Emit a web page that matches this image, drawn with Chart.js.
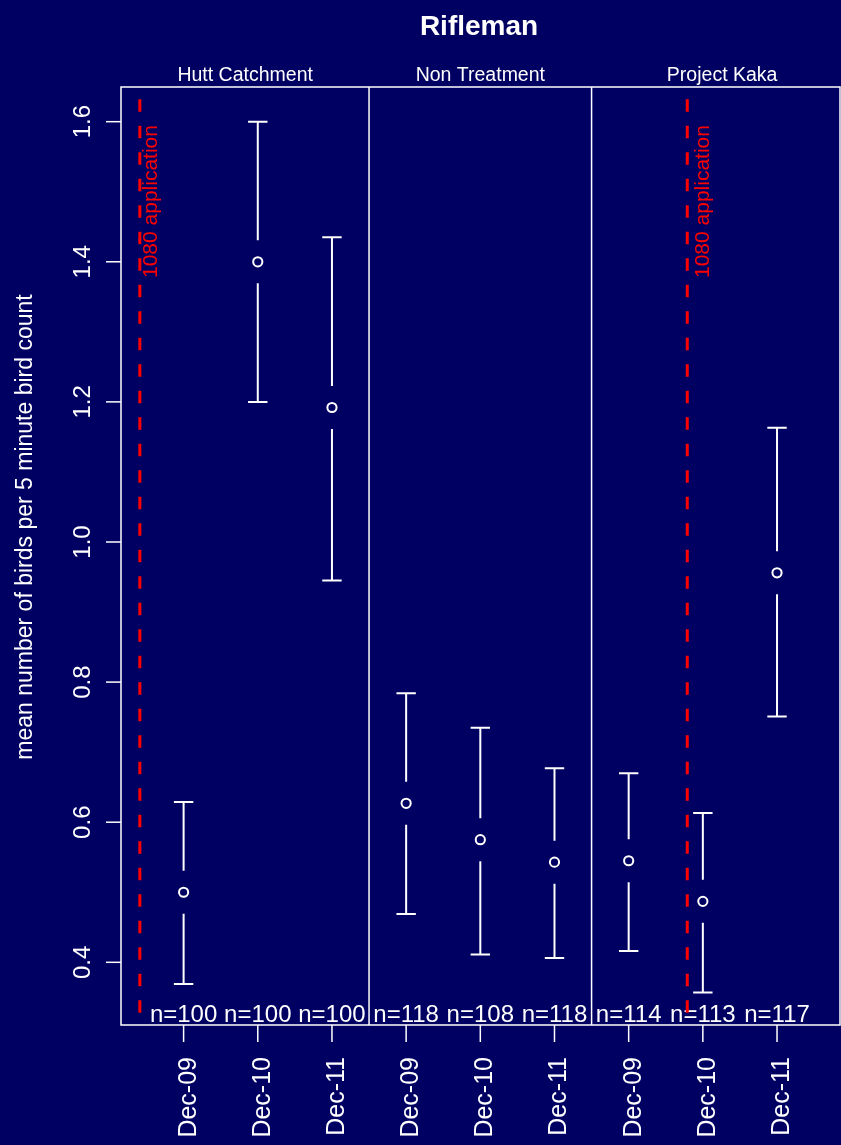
<!DOCTYPE html>
<html lang="en">
<head>
  <meta charset="UTF-8">
  <title>Rifleman</title>
  <script src="https://cdn.jsdelivr.net/npm/chart.js"></script>
  <style>
    html, body { margin: 0; padding: 0; background: #000062; }
    canvas { display: block; }
  </style>
</head>
<body>
  <canvas id="riflemanChart" width="841" height="1145"></canvas>

  <script>
    // sites and survey months
    const sites = ['Hutt Catchment', 'Non Treatment', 'Project Kaka'];
    const months = ['Dec-09', 'Dec-10', 'Dec-11'];

    // mean birds per 5 minute count with interval ends, one row per site
    const means = [[0.500, 1.400, 1.192], [0.627, 0.575, 0.543], [0.545, 0.487, 0.956]];
    const upper = [[0.629, 1.600, 1.435], [0.784, 0.735, 0.677], [0.670, 0.613, 1.163]];
    const lower = [[0.369, 1.200, 0.945], [0.469, 0.411, 0.406], [0.416, 0.357, 0.751]];
    const counts = [[100, 100, 100], [118, 108, 118], [114, 113, 117]];

    const yTicks = [0.4, 0.6, 0.8, 1.0, 1.2, 1.4, 1.6];

    // 1080 drops, in x-axis units (one position per month slot)
    const dropX = [0.41, 7.79];
    const dropLabelX = [0.56, 8.01];
    const siteLabelX = [1.83, 5.0, 8.26];

    const FONT = "'Liberation Sans', Arial, Helvetica, sans-serif";
    const BG = '#000062';
    const FG = '#ffffff';

    const points = [];
    sites.forEach((site, s) => {
      months.forEach((m, j) => {
        points.push({
          x: s * 3 + j + 1,
          y: means[s][j],
          lo: lower[s][j],
          hi: upper[s][j],
          n: counts[s][j],
          month: m
        });
      });
    });

    const panelPlugin = {
      id: 'panelPlugin',
      beforeDraw(chart) {
        const ctx = chart.ctx;
        ctx.save();
        ctx.fillStyle = BG;
        ctx.fillRect(0, 0, chart.width, chart.height);
        ctx.restore();
      },
      beforeDatasetsDraw(chart) {
        const { ctx, chartArea: a, scales: { x, y } } = chart;
        ctx.save();

        // frame and site dividers
        ctx.strokeStyle = FG;
        ctx.lineWidth = 1.5;
        ctx.strokeRect(a.left, a.top, a.right - a.left, a.bottom - a.top);
        [3.5, 6.5].forEach(v => {
          const px = x.getPixelForValue(v);
          ctx.beginPath();
          ctx.moveTo(px, a.top);
          ctx.lineTo(px, a.bottom);
          ctx.stroke();
        });

        // y axis ticks and labels
        ctx.fillStyle = FG;
        ctx.font = '24px ' + FONT;
        yTicks.forEach(t => {
          const py = y.getPixelForValue(t);
          ctx.beginPath();
          ctx.moveTo(a.left, py);
          ctx.lineTo(a.left - 15, py);
          ctx.stroke();
          ctx.save();
          ctx.translate(90, py);
          ctx.rotate(-Math.PI / 2);
          ctx.textAlign = 'center';
          ctx.textBaseline = 'alphabetic';
          ctx.fillText(t.toFixed(1), 0, 0);
          ctx.restore();
        });

        // x axis ticks, month labels and sample sizes
        points.forEach(p => {
          const px = x.getPixelForValue(p.x);
          ctx.beginPath();
          ctx.moveTo(px, a.bottom);
          ctx.lineTo(px, a.bottom + 17);
          ctx.stroke();
          ctx.save();
          ctx.translate(px + 12, a.bottom + 32);
          ctx.rotate(-Math.PI / 2);
          ctx.font = '25px ' + FONT;
          ctx.textAlign = 'right';
          ctx.textBaseline = 'alphabetic';
          ctx.fillText(p.month, 0, 0);
          ctx.restore();

          ctx.font = '24px ' + FONT;
          ctx.textAlign = 'center';
          ctx.textBaseline = 'alphabetic';
          ctx.fillText('n=' + p.n, px, a.bottom - 3);
        });

        // site names above the panels
        ctx.font = '19.5px ' + FONT;
        ctx.textAlign = 'center';
        ctx.textBaseline = 'alphabetic';
        sites.forEach((s, i) => {
          ctx.fillText(s, x.getPixelForValue(siteLabelX[i]), a.top - 6);
        });

        // title and y axis title
        ctx.font = 'bold 28px ' + FONT;
        ctx.fillText('Rifleman', 479, 35);
        ctx.save();
        ctx.translate(32, 527);
        ctx.rotate(-Math.PI / 2);
        ctx.font = '23px ' + FONT;
        ctx.fillText('mean number of birds per 5 minute bird count', 0, 0);
        ctx.restore();

        // 1080 application lines
        ctx.beginPath();
        ctx.rect(a.left, 0, a.right - a.left, a.bottom);
        ctx.clip();
        ctx.strokeStyle = '#ff0000';
        ctx.fillStyle = '#ff0000';
        ctx.lineWidth = 3;
        ctx.setLineDash([12.5, 14]);
        dropX.forEach((v, i) => {
          const px = x.getPixelForValue(v);
          ctx.beginPath();
          ctx.moveTo(px, y.getPixelForValue(1.632));
          ctx.lineTo(px, a.bottom + 5);
          ctx.stroke();
          ctx.save();
          ctx.translate(x.getPixelForValue(dropLabelX[i]), y.getPixelForValue(1.486));
          ctx.rotate(-Math.PI / 2);
          ctx.font = '21px ' + FONT;
          ctx.textAlign = 'center';
          ctx.textBaseline = 'middle';
          ctx.fillText('1080 application', 0, 0);
          ctx.restore();
        });
        ctx.setLineDash([]);

        // interval bars, broken around each mean
        ctx.strokeStyle = FG;
        ctx.lineWidth = 2;
        const gap = 21.5, cap = 9.7;
        points.forEach(p => {
          const px = x.getPixelForValue(p.x);
          const pm = y.getPixelForValue(p.y);
          const ph = y.getPixelForValue(p.hi);
          const pl = y.getPixelForValue(p.lo);
          ctx.beginPath();
          if (pm - gap > ph) { ctx.moveTo(px, ph); ctx.lineTo(px, pm - gap); }
          if (pm + gap < pl) { ctx.moveTo(px, pm + gap); ctx.lineTo(px, pl); }
          ctx.moveTo(px - cap, ph); ctx.lineTo(px + cap, ph);
          ctx.moveTo(px - cap, pl); ctx.lineTo(px + cap, pl);
          ctx.stroke();
        });

        ctx.restore();
      }
    };

    new Chart(document.getElementById('riflemanChart'), {
      type: 'scatter',
      data: {
        datasets: [{
          label: 'Rifleman',
          data: points,
          pointStyle: 'circle',
          pointRadius: 4.6,
          pointHoverRadius: 4.6,
          pointBorderWidth: 2,
          pointBorderColor: FG,
          pointBackgroundColor: 'rgba(0,0,0,0)'
        }]
      },
      options: {
        responsive: false,
        animation: false,
        events: [],
        layout: {
          autoPadding: false,
          padding: { left: 121, right: 1, top: 87, bottom: 120 }
        },
        plugins: {
          legend: { display: false },
          tooltip: { enabled: false },
          title: { display: false }
        },
        scales: {
          x: { type: 'linear', min: 0.156, max: 9.849, display: false },
          y: { type: 'linear', min: 0.3105, max: 1.6495, display: false }
        }
      },
      plugins: [panelPlugin]
    });
  </script>
</body>
</html>
